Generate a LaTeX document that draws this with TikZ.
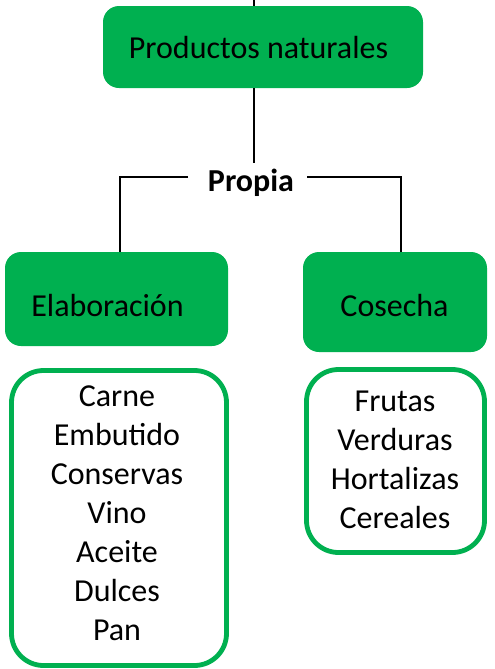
\documentclass[tikz,border=0pt]{standalone}
\usepackage{fontspec}
\setmainfont{Carlito}
\definecolor{xlgreen}{HTML}{00B050}
\begin{document}
\begin{tikzpicture}[x=0.75pt,y=-0.75pt,
  gbox/.style={fill=xlgreen, draw=none, rounded corners=12pt, inner sep=0pt},
  lbox/.style={draw=xlgreen, line width=3.6pt, rounded corners=24pt, fill=white, inner sep=0pt},
  conn/.style={draw=black, line width=1.1pt},
  lbl/.style={font=\fontsize{24}{29.25}\selectfont, inner sep=0pt, align=center}]
\useasboundingbox (0,0) rectangle (495,669);
% boxes
\node[gbox, minimum width=240pt, minimum height=61.5pt] (top) at (263,47) {};
\node[gbox, minimum width=167.25pt, minimum height=70.5pt] (elab) at (116.5,299) {};
\node[gbox, minimum width=138pt, minimum height=75pt] (cos) at (395,302) {};
\node[lbox, minimum width=161.25pt, minimum height=221.25pt] (list1) at (119,518) {};
\node[lbox, minimum width=133.5pt, minimum height=137.25pt] (list2) at (395.5,461) {};
% texts
\node[lbl] (toptxt) at (258.5,48) {Productos naturales};
\node[lbl] (elabtxt) at (107.5,305) {Elaboración};
\node[lbl] (costxt) at (394.5,305) {Cosecha};
\node[lbl, font=\fontsize{24}{29.25}\selectfont\bfseries] (prop) at (251,183) {Propia};
\node[lbl] (l1txt) at (117,513.5) {Carne\\Embutido\\Conservas\\Vino\\Aceite\\Dulces\\Pan};
\node[lbl] (l2txt) at (395,460) {Frutas\\Verduras\\Hortalizas\\Cereales};
% connectors
\coordinate (t0) at (254,0);
\coordinate (t1) at (254,6);
\coordinate (t2) at (254,88);
\coordinate (t3) at (254,163);
\coordinate (pl) at (188,177);
\coordinate (pr) at (307,177);
\coordinate (el) at (120,252);
\coordinate (cr) at (401,252);
\draw[conn] (t0) -- (t1);
\draw[conn] (t2) -- (t3);
\draw[conn] (pl) -| (el);
\draw[conn] (pr) -| (cr);
\end{tikzpicture}
\end{document}
